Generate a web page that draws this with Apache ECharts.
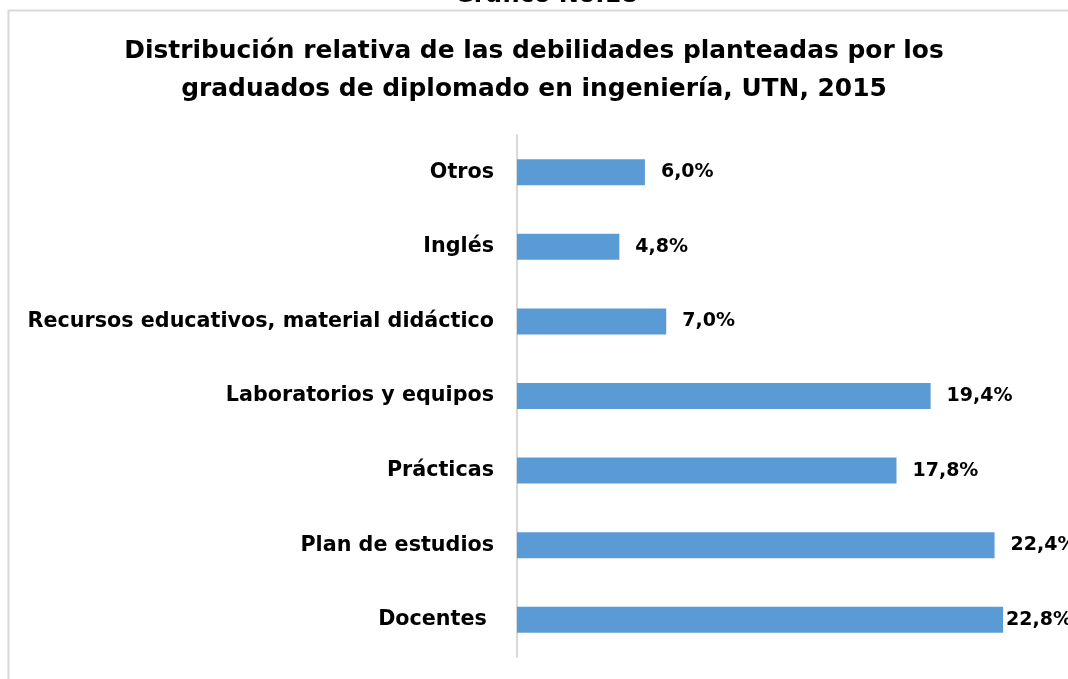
<!DOCTYPE html>
<html><head><meta charset="utf-8">
<script src="https://cdn.jsdelivr.net/npm/echarts@6/dist/echarts.min.js"></script>
<style>html,body{margin:0;padding:0;background:#fff}#c{width:1068px;height:679px}</style>
</head><body><div id="c"></div>
<script>
const categories = ["Docentes ", "Plan de estudios", "Prácticas", "Laboratorios y equipos", "Recursos educativos, material didáctico", "Inglés", "Otros"];
const values = [22.8, 22.4, 17.8, 19.4, 7.0, 4.8, 6.0];
const titleLines = "Distribución relativa de las debilidades planteadas por los\ngraduados de diplomado en ingeniería, UTN, 2015";
const topCaption = "Gráfico No.18";
const FONT = "DejaVu Sans";
const chart = echarts.init(document.getElementById('c'));
chart.setOption({
  animation: false,
  title: {
    text: titleLines, left: 'center', top: 28,
    textStyle: {fontFamily: FONT, fontWeight: 'bold', fontSize: 24.9, color: '#000', lineHeight: 38}
  },
  graphic: [
    {type: 'rect', shape: {x: 8.5, y: 10.5, width: 1200, height: 800}, style: {fill: 'none', stroke: '#d9d9d9', lineWidth: 2}},
    {type: 'text', x: 546, y: 8, style: {text: topCaption, fontFamily: FONT, fontWeight: 'bold', fontSize: 24, fill: '#000', textAlign: 'center', textVerticalAlign: 'bottom'}}
  ],
  grid: {left: 517, right: 18, top: 135, bottom: 22, containLabel: false},
  xAxis: {type: 'value', min: 0, max: 25, show: false},
  yAxis: {
    type: 'category', data: categories,
    axisLine: {show: true, lineStyle: {color: '#d9d9d9', width: 2}},
    axisTick: {show: false},
    axisLabel: {fontFamily: FONT, fontWeight: 'bold', fontSize: 20.7, color: '#000', margin: 23}
  },
  series: [{
    type: 'bar', barWidth: 26,
    data: values.map((v, i) => i === 0 ? {value: v, label: {distance: 3}} : v),
    itemStyle: {color: '#5b9bd5'},
    label: {show: true, position: 'right', distance: 16, fontFamily: FONT, fontWeight: 'bold', fontSize: 19, color: '#000',
      formatter: p => p.value.toFixed(1).replace('.', ',') + '%'}
  }]
});
</script></body></html>
